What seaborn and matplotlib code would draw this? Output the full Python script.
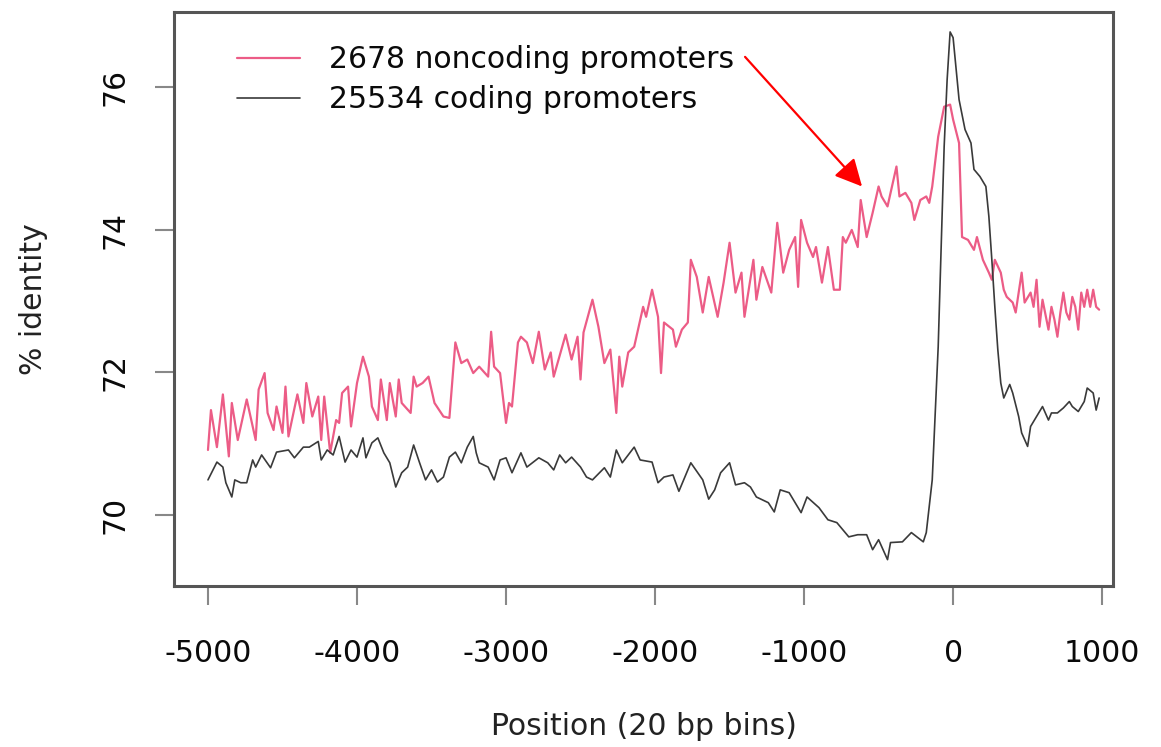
import numpy as np
import pandas as pd
import matplotlib
matplotlib.use("Agg")
import matplotlib.pyplot as plt
import seaborn as sns

# ---- data (position in bp, % identity) ----
noncoding_pos = [
    -5000, -4980, -4940, -4900, -4860, -4840, -4800, -4740, -4680, -4660, -4620, -4600,
    -4560, -4540, -4500, -4480, -4460, -4400, -4360, -4340, -4300, -4260, -4240, -4220,
    -4180, -4140, -4120, -4100, -4060, -4040, -4000, -3960, -3920, -3900, -3860, -3840,
    -3800, -3780, -3740, -3720, -3700, -3640, -3620, -3600, -3560, -3520, -3480, -3420,
    -3380, -3340, -3300, -3260, -3220, -3180, -3120, -3100, -3080, -3040, -3000, -2980,
    -2960, -2920, -2900, -2860, -2820, -2780, -2740, -2700, -2680, -2600, -2560, -2520,
    -2500, -2480, -2420, -2380, -2340, -2300, -2260, -2240, -2220, -2180, -2140, -2080,
    -2060, -2020, -1980, -1960, -1940, -1880, -1860, -1820, -1780, -1760, -1720, -1680,
    -1640, -1580, -1540, -1500, -1460, -1420, -1400, -1340, -1320, -1280, -1220, -1180,
    -1140, -1100, -1060, -1040, -1020, -980, -940, -920, -880, -840, -800, -760,
    -740, -720, -680, -640, -620, -580, -540, -500, -480, -440, -380, -360,
    -320, -280, -260, -220, -180, -160, -140, -100, -60, -20, 0, 40,
    60, 100, 140, 160, 200, 240, 260, 280, 320, 340, 360, 400,
    420, 460, 480, 520, 540, 560, 580, 600, 640, 660, 680, 700,
    720, 740, 760, 780, 800, 820, 840, 860, 880, 900, 920, 940,
    960, 980,
]
noncoding_identity = [
    70.91, 71.47, 70.95, 71.69, 70.82, 71.57, 71.05, 71.62, 71.05, 71.76, 71.99, 71.43,
    71.19, 71.52, 71.15, 71.80, 71.10, 71.69, 71.29, 71.85, 71.38, 71.66, 71.05, 71.66,
    70.87, 71.33, 71.29, 71.71, 71.80, 71.24, 71.85, 72.22, 71.94, 71.52, 71.33, 71.90,
    71.33, 71.85, 71.38, 71.90, 71.57, 71.43, 71.94, 71.80, 71.85, 71.94, 71.57, 71.38,
    71.36, 72.42, 72.13, 72.18, 71.99, 72.08, 71.94, 72.57, 72.08, 71.99, 71.29, 71.57,
    71.52, 72.42, 72.50, 72.42, 72.13, 72.57, 72.04, 72.28, 71.94, 72.53, 72.18, 72.50,
    71.90, 72.56, 73.02, 72.64, 72.13, 72.32, 71.43, 72.22, 71.80, 72.28, 72.36, 72.92,
    72.78, 73.16, 72.78, 71.99, 72.70, 72.60, 72.36, 72.60, 72.70, 73.58, 73.34, 72.84,
    73.34, 72.78, 73.26, 73.82, 73.12, 73.40, 72.78, 73.58, 73.02, 73.48, 73.12, 74.10,
    73.40, 73.72, 73.90, 73.20, 74.14, 73.82, 73.62, 73.76, 73.26, 73.76, 73.16, 73.16,
    73.90, 73.82, 74.00, 73.76, 74.42, 73.90, 74.24, 74.61, 74.47, 74.33, 74.89, 74.47,
    74.52, 74.38, 74.14, 74.42, 74.47, 74.38, 74.61, 75.31, 75.73, 75.76, 75.55, 75.22,
    73.90, 73.86, 73.72, 73.90, 73.58, 73.40, 73.30, 73.58, 73.40, 73.16, 73.06, 72.98,
    72.84, 73.40, 72.98, 73.12, 72.92, 73.30, 72.64, 73.02, 72.60, 72.92, 72.74, 72.50,
    72.84, 73.12, 72.84, 72.74, 73.06, 72.92, 72.60, 73.12, 72.92, 73.16, 72.92, 73.16,
    72.92, 72.88,
]

coding_pos = [
    -5000, -4940, -4900, -4880, -4840, -4820, -4780, -4740, -4700, -4680, -4640, -4580,
    -4540, -4460, -4420, -4360, -4320, -4260, -4240, -4200, -4160, -4120, -4080, -4040,
    -4000, -3960, -3940, -3900, -3860, -3820, -3780, -3740, -3700, -3660, -3620, -3580,
    -3540, -3500, -3460, -3420, -3380, -3340, -3300, -3260, -3220, -3200, -3180, -3120,
    -3080, -3040, -3000, -2960, -2900, -2860, -2780, -2720, -2680, -2640, -2600, -2560,
    -2500, -2460, -2420, -2340, -2300, -2260, -2220, -2140, -2100, -2020, -1980, -1940,
    -1880, -1840, -1760, -1680, -1640, -1600, -1560, -1500, -1460, -1400, -1360, -1320,
    -1240, -1200, -1160, -1100, -1020, -980, -900, -840, -780, -700, -640, -580,
    -540, -500, -440, -420, -340, -280, -200, -180, -140, -120, -100, -80,
    -60, -40, -20, 0, 40, 80, 120, 140, 180, 220, 240, 260,
    280, 300, 320, 340, 380, 400, 440, 460, 500, 520, 560, 600,
    640, 660, 700, 740, 780, 800, 840, 880, 900, 940, 960, 980,
]
coding_identity = [
    70.49, 70.74, 70.67, 70.45, 70.25, 70.49, 70.45, 70.45, 70.77, 70.67, 70.84, 70.66,
    70.88, 70.91, 70.80, 70.95, 70.95, 71.03, 70.77, 70.91, 70.84, 71.10, 70.74, 70.91,
    70.81, 71.08, 70.80, 71.01, 71.08, 70.87, 70.73, 70.39, 70.59, 70.67, 70.98, 70.73,
    70.49, 70.63, 70.46, 70.53, 70.81, 70.88, 70.73, 70.95, 71.10, 70.87, 70.73, 70.67,
    70.49, 70.77, 70.80, 70.59, 70.87, 70.67, 70.80, 70.73, 70.63, 70.84, 70.73, 70.81,
    70.67, 70.53, 70.49, 70.66, 70.53, 70.91, 70.73, 70.95, 70.77, 70.74, 70.45, 70.53,
    70.56, 70.33, 70.73, 70.49, 70.22, 70.35, 70.59, 70.73, 70.42, 70.45, 70.39, 70.25,
    70.17, 70.04, 70.35, 70.31, 70.03, 70.25, 70.10, 69.93, 69.89, 69.69, 69.72, 69.72,
    69.51, 69.65, 69.37, 69.61, 69.62, 69.75, 69.62, 69.75, 70.49, 71.43, 72.36, 73.76,
    75.17, 76.11, 76.78, 76.70, 75.83, 75.41, 75.22, 74.85, 74.75, 74.61, 74.19, 73.58,
    72.92, 72.32, 71.85, 71.64, 71.83, 71.71, 71.38, 71.15, 70.96, 71.24, 71.38, 71.52,
    71.33, 71.43, 71.43, 71.50, 71.59, 71.52, 71.45, 71.59, 71.78, 71.71, 71.47, 71.64,
]

series_labels = ["2678 noncoding promoters", "25534 coding promoters"]
x_ticks = [-5000, -4000, -3000, -2000, -1000, 0, 1000]
y_ticks = [70, 72, 74, 76]
x_label = "Position (20 bp bins)"
y_label = "% identity"

# ---- styling ----
sns.set_style("white")
plt.rcParams["font.family"] = ["DejaVu Sans"]
plt.rcParams["axes.unicode_minus"] = False

pink = "#EC5C86"
dark = "#3A3A3A"
frame = "#555555"
FS = 21.5

df_nc = pd.DataFrame({"pos": noncoding_pos, "identity": noncoding_identity})
df_c = pd.DataFrame({"pos": coding_pos, "identity": coding_identity})

fig = plt.figure(figsize=(11.61, 7.47), dpi=100)
ax = fig.add_axes([174 / 1161, 1 - 586 / 747, 939 / 1161, 574 / 747])

sns.lineplot(data=df_nc, x="pos", y="identity", ax=ax, color=pink, linewidth=1.6,
             label=series_labels[0])
sns.lineplot(data=df_c, x="pos", y="identity", ax=ax, color=dark, linewidth=1.2,
             label=series_labels[1])

ax.set_xlim(-5228, 1073)
ax.set_ylim(69.0, 77.06)
ax.set_xticks(x_ticks)
ax.set_yticks(y_ticks)
ax.set_xticklabels([str(v) for v in x_ticks])
ax.set_yticklabels([str(v) for v in y_ticks], rotation=90, va="center")

for s in ax.spines.values():
    s.set_visible(True)
    s.set_color(frame)
    s.set_linewidth(2.2)

ax.tick_params(axis="both", which="major", bottom=True, left=True, direction="out",
               length=14, width=1.5, color="#888888",
               labelsize=FS, labelcolor="#0a0a0a")
ax.tick_params(axis="x", pad=24)
ax.tick_params(axis="y", pad=18)

ax.set_xlabel(x_label, fontsize=FS, color="#222222")
ax.set_ylabel(y_label, fontsize=FS, color="#222222")
ax.xaxis.set_label_coords(0.5, -0.22)
ax.yaxis.set_label_coords(-0.134, 0.5)

leg = ax.legend(loc="upper left", bbox_to_anchor=(0.067, 0.942), frameon=False,
                fontsize=FS, handlelength=2.1, handletextpad=1.0, labelspacing=0.37,
                borderpad=0, borderaxespad=0)
for t in leg.get_texts():
    t.set_color("#0a0a0a")

# red annotation arrow
ax.annotate("", xy=(-611, 74.61), xytext=(-1396, 76.43),
            arrowprops=dict(arrowstyle="-|>,head_length=1.1,head_width=0.55",
                            color="#FF0000", lw=1.6, mutation_scale=15,
                            shrinkA=0, shrinkB=0))

fig.savefig("out.png", dpi=100)
